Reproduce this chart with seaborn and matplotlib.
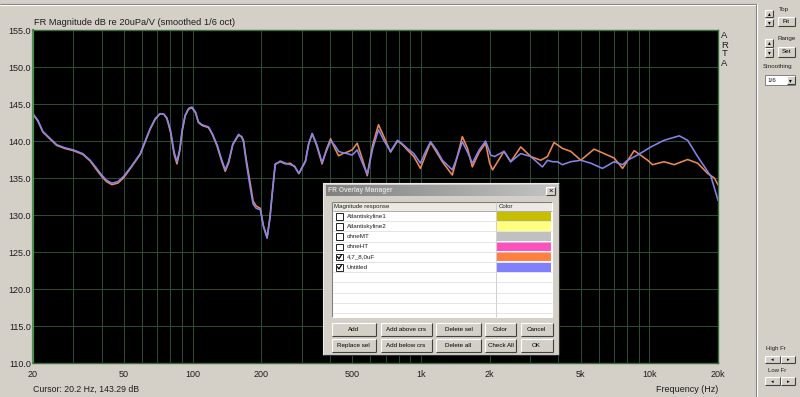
import numpy as np
import pandas as pd
import matplotlib
matplotlib.use("Agg")
import matplotlib.pyplot as plt
import seaborn as sns
from matplotlib.patches import Rectangle
from matplotlib.ticker import FixedLocator, NullFormatter
from matplotlib.colors import LinearSegmentedColormap

# ---------------- data ----------------
freq_blue = [20, 21, 22.1, 23.5, 25.4, 27.5, 30, 33, 35.6, 38, 40, 42, 44.3, 47, 49.8,
             54, 59, 62, 65.2, 68.5, 72, 75, 77.2, 80, 83, 85.4, 88, 90, 92.8, 96,
             99.3, 103, 106, 110, 117.5, 122, 128, 134, 139, 144, 150, 159, 164, 167,
             172, 179, 184, 190, 198, 204, 212, 218, 223, 230, 242, 255, 268, 280, 292,
             312, 322, 334, 350, 369, 385, 402, 420, 436, 455, 475, 500, 526, 555, 582,
             615, 652, 690, 736, 790, 830, 871, 931, 995, 1045, 1102, 1170, 1241, 1372,
             1440, 1518, 1600, 1679, 1800, 1920, 2020, 2100, 2311, 2473, 2736, 3027,
             3405, 3582, 3767, 3962, 4168, 4530, 5013, 5545, 6240, 7016, 7640, 8030,
             8890, 10170, 11610, 13530, 14720, 16290, 18630, 20000]
db_blue = [143.7, 142.8, 141.3, 140.5, 139.5, 139.1, 138.8, 138.3, 137.4, 136.3, 135.4,
           134.7, 134.3, 134.5, 135.2, 136.6, 138.3, 140.0, 141.7, 143.0, 143.7, 143.6,
           143.1, 141.5, 138.5, 137.2, 139.0, 141.5, 143.5, 144.4, 144.6, 143.9, 142.6,
           142.2, 141.9, 141.0, 139.5, 137.5, 136.1, 137.3, 139.6, 140.9, 140.5, 139.9,
           137.0, 133.6, 131.5, 130.9, 130.7, 128.5, 126.85, 129.5, 132.7, 136.8, 137.3,
           137.0, 136.8, 136.6, 135.6, 137.2, 139.5, 141.0, 139.5, 137.1, 138.6, 140.0,
           139.4, 138.6, 138.4, 138.3, 138.1, 138.8, 137.0, 135.5, 139.0, 141.5, 140.0,
           138.6, 140.1, 139.6, 139.0, 138.3, 137.0, 138.5, 139.9, 138.8, 137.4, 136.1,
           137.8, 139.9, 138.5, 137.0, 138.8, 140.0, 138.1, 137.9, 138.6, 137.2, 138.3,
           137.9, 136.5, 137.4, 137.2, 137.2, 136.8, 137.2, 137.4, 137.0, 136.3, 137.2,
           136.8, 137.4, 138.1, 139.2, 140.1, 140.7, 140.1, 137.9, 135.2, 132.0]

freq_orange = [20, 21, 22.1, 23.5, 25.4, 27.5, 30, 33, 35.6, 38, 40, 42, 44.3, 47, 49.8,
               54, 59, 62, 65.2, 68.5, 72, 75, 77.2, 80, 83, 85.4, 88, 90, 92.8, 96,
               99.3, 103, 106, 110, 117.5, 122, 128, 134, 139, 144, 150, 159, 164, 167,
               172, 179, 184, 190, 198, 204, 212, 218, 223, 230, 242, 255, 268, 280, 292,
               312, 322, 334, 350, 369, 385, 402, 420, 436, 455, 475, 500, 526, 555, 582,
               615, 652, 690, 736, 790, 830, 871, 931, 995, 1045, 1102, 1170, 1241, 1372,
               1440, 1518, 1600, 1679, 1800, 1920, 2000, 2060, 2311, 2473, 2736, 3027,
               3348, 3582, 3829, 4168, 4530, 5013, 5733, 6343, 7016, 7640, 8590, 9840,
               10340, 11610, 12850, 14720, 16290, 18030, 19270, 20000]
db_orange = [143.6, 142.7, 141.2, 140.4, 139.4, 139.0, 138.7, 138.2, 137.3, 136.1, 135.2,
             134.5, 134.1, 134.3, 135.0, 136.5, 138.2, 139.9, 141.6, 142.9, 143.7, 143.6,
             143.0, 141.2, 138.2, 136.9, 138.8, 141.3, 143.4, 144.3, 144.5, 143.8, 142.5,
             142.1, 141.8, 140.9, 139.3, 137.3, 135.9, 137.1, 139.5, 140.8, 140.6, 140.1,
             137.4, 134.2, 131.9, 131.2, 130.9, 128.6, 127.0, 129.6, 132.8, 136.9, 137.2,
             136.9, 137.0, 136.5, 135.6, 137.3, 139.6, 141.0, 139.3, 136.9, 138.8, 140.3,
             139.0, 138.0, 138.3, 138.5, 138.8, 139.7, 137.5, 135.3, 139.5, 142.2, 140.5,
             138.5, 140.0, 139.5, 138.8, 137.9, 136.3, 138.0, 139.8, 138.5, 137.2, 135.4,
             137.8, 140.6, 139.0, 136.5, 138.5, 139.7, 137.0, 136.1, 138.6, 137.2, 139.2,
             137.9, 137.4, 137.9, 139.8, 139.0, 138.6, 137.4, 138.9, 138.3, 137.7, 136.3,
             138.7, 137.4, 136.8, 137.2, 136.8, 137.5, 137.0, 135.6, 135.0, 134.1]

series_names = ["4,7_8,0uF", "Untitled"]
series_colors = ["#EC8A52", "#8484EC"]

x_ticks = [20, 50, 100, 200, 500, 1000, 2000, 5000, 10000, 20000]
x_tick_labels = ["20", "50", "100", "200", "500", "1k", "2k", "5k", "10k", "20k"]
y_ticks = [110, 115, 120, 125, 130, 135, 140, 145, 150, 155]
y_tick_labels = ["%.1f" % v for v in y_ticks]

overlay_names = ["Atlantiskyline1", "Atlantiskyline2", "ohneMT", "ohneHT", "4,7_8,0uF", "Untitled"]
overlay_colors = ["#C8BE00", "#FFFF80", "#C0C0C0", "#FF50C0", "#FF8040", "#8080FF"]
overlay_checked = [False, False, False, False, True, True]

title_text = "FR Magnitude dB re 20uPa/V (smoothed 1/6 oct)"
cursor_text = "Cursor: 20.2 Hz, 143.29 dB"
xlabel_text = "Frequency (Hz)"

# ---------------- figure ----------------
plt.rcParams["font.family"] = ["Liberation Sans", "DejaVu Sans"]
BG = "#D4D0C8"
TXT = "#1E1E1E"
W, H = 800, 397
fig = plt.figure(figsize=(8, 3.97), dpi=100, facecolor=BG)

ax = fig.add_axes([33 / W, 1 - 363 / H, 685 / W, 333 / H])
ax.set_facecolor("black")

df = pd.concat([
    pd.DataFrame({"freq": freq_orange, "db": db_orange, "series": series_names[0]}),
    pd.DataFrame({"freq": freq_blue, "db": db_blue, "series": series_names[1]}),
], ignore_index=True)

sns.lineplot(data=df, x="freq", y="db", hue="series", hue_order=series_names,
             palette=dict(zip(series_names, series_colors)), estimator=None,
             linewidth=1.15, legend=False, ax=ax)

ax.set_xscale("log")
ax.set_xlim(20, 20000)
ax.set_ylim(110, 155)
ax.set_xlabel("")
ax.set_ylabel("")

minor = []
for dec in [10, 100, 1000, 10000]:
    for m in range(1, 10):
        v = dec * m
        if 20 <= v <= 20000 and v not in x_ticks:
            minor.append(v)
ax.xaxis.set_major_locator(FixedLocator(x_ticks))
ax.set_xticklabels(x_tick_labels)
ax.xaxis.set_minor_locator(FixedLocator(minor))
ax.xaxis.set_minor_formatter(NullFormatter())
ax.set_yticks(y_ticks)
ax.set_yticklabels(y_tick_labels)
ax.tick_params(axis="both", which="both", length=0, labelsize=6.5, colors=TXT)
ax.tick_params(axis="x", pad=5)
ax.tick_params(axis="y", pad=1.5)
ax.grid(True, which="both", color="#2C4E34", linewidth=0.7)
ax.set_axisbelow(True)
for s in ax.spines.values():
    s.set_color("#3A6E40")
    s.set_linewidth(1.0)
ax.spines["left"].set_linewidth(1.6)
ax.spines["left"].set_color("#4C9050")

fig.text(34 / W, 1 - 22.5 / H, title_text, fontsize=6.7, color=TXT, va="center", ha="left")
fig.text(33 / W, 1 - 389 / H, cursor_text, fontsize=6.3, color=TXT, va="center", ha="left")
fig.text(718 / W, 1 - 389 / H, xlabel_text, fontsize=6.5, color=TXT, va="center", ha="right")
for i, ch in enumerate("ARTA"):
    fig.text(724.5 / W, 1 - (36 + 9 * i) / H, ch, fontsize=6.8, color=TXT, va="center", ha="center")

# ---------------- decoration overlay (pixel coordinates) ----------------
deco = fig.add_axes([0, 0, 1, 1], zorder=10)
deco.axis("off")
deco.set_autoscale_on(False)
deco.set_xlim(0, W)
deco.set_ylim(H, 0)


def hline(x0, x1, y, c, lw=0.8):
    deco.plot([x0, x1], [y, y], color=c, lw=lw, solid_capstyle="butt")


def vline(x, y0, y1, c, lw=0.8):
    deco.plot([x, x], [y0, y1], color=c, lw=lw, solid_capstyle="butt")


def button(x0, y0, x1, y1, label="", fs=4.6, raised=True):
    deco.add_patch(Rectangle((x0, y0), x1 - x0, y1 - y0, facecolor=BG, edgecolor="none"))
    lt, dk = ("white", "#404040") if raised else ("#808080", "white")
    hline(x0, x1, y0, lt)
    vline(x0, y0, y1, lt)
    hline(x0, x1, y1, dk)
    vline(x1, y0, y1, dk)
    if label:
        deco.text((x0 + x1) / 2, (y0 + y1) / 2 + 0.3, label, ha="center", va="center",
                  fontsize=fs, color="black")


# window frame lines
hline(0, 756, 4, "#808080")
hline(0, 756, 5, "white")
vline(756, 4, 397, "#808080")
vline(757, 4, 397, "white")

# right-hand panel controls
button(765, 9.5, 773, 17, "▴", fs=4)
button(765, 18.5, 773, 26, "▾", fs=4)
deco.text(779, 10, "Top", fontsize=4.5, color=TXT, va="center", ha="left")
button(778, 16.5, 795, 26, "Fit", fs=4.6)
button(765, 38.5, 773, 46.5, "▴", fs=4)
button(765, 48, 773, 56.5, "▾", fs=4)
deco.text(778, 38.5, "Range", fontsize=4.5, color=TXT, va="center", ha="left")
button(778, 46.5, 795, 56.5, "Set", fs=4.6)
deco.text(763, 66.5, "Smoothing", fontsize=4.5, color=TXT, va="center", ha="left")
deco.add_patch(Rectangle((765, 75), 30, 10, facecolor="white", edgecolor="#808080", lw=0.7))
deco.text(767, 80.3, "1/6", fontsize=4.5, color=TXT, va="center", ha="left")
button(787, 76, 794.5, 84, "▾", fs=4)

deco.text(766.5, 348.5, "High Fr", fontsize=4.3, color=TXT, va="center", ha="left")
button(765, 356, 780, 363, "◂", fs=3.8)
button(781, 356, 795, 363, "▸", fs=3.8)
deco.text(768, 370, "Low Fr", fontsize=4.3, color=TXT, va="center", ha="left")
button(765, 377, 780, 384.5, "◂", fs=3.8)
button(781, 377, 795, 384.5, "▸", fs=3.8)

# overlay manager dialog
dx0, dy0, dx1, dy1 = 323, 183, 559, 355
deco.add_patch(Rectangle((dx0, dy0), dx1 - dx0, dy1 - dy0, facecolor=BG, edgecolor="none"))
hline(dx0, dx1, dy0, "#E8E8E8")
vline(dx0, dy0, dy1, "#E8E8E8")
hline(dx0, dx1, dy1, "#303030")
vline(dx1, dy0, dy1, "#303030")
grad = LinearSegmentedColormap.from_list("tb", ["#808080", "#C4C4C4"])
deco.imshow(np.linspace(0, 1, 256)[None, :], extent=(325.5, 556.5, 196, 185.5),
            cmap=grad, aspect="auto", zorder=1)
deco.text(327.5, 190.8, "FR Overlay Manager", fontsize=4.8, fontweight="bold",
          color="#DCDCDC", va="center", ha="left", zorder=3)
button(545.5, 186.5, 555, 195, "×", fs=5.5)

tx0, ty0, tx1, ty1 = 331.5, 201.5, 552, 317
deco.add_patch(Rectangle((tx0, ty0), tx1 - tx0, ty1 - ty0, facecolor="white", edgecolor="none"))
hline(tx0, tx1, ty0, "#808080")
vline(tx0, ty0, ty1, "#808080")
hline(tx0, tx1, ty1, "white")
vline(tx1, ty0, ty1, "white")
deco.add_patch(Rectangle((tx0 + 1, ty0 + 0.5), tx1 - tx0 - 1.5, 8.5, facecolor="#ECE9E2",
                         edgecolor="none"))
hline(tx0 + 1, tx1, ty0 + 9, "#A0A0A0", lw=0.6)
col_x = 496
vline(col_x, ty0 + 0.5, ty1, "#C8C8C8", lw=0.6)
deco.text(334, ty0 + 5, "Magnitude response", fontsize=4.4, color=TXT, va="center", ha="left")
deco.text(499, ty0 + 5, "Color", fontsize=4.4, color=TXT, va="center", ha="left")

row_h = 10.2
for k in range(11):
    y = 211 + row_h * k
    if y < ty1 - 1:
        hline(tx0 + 1, tx1 - 0.5, y + row_h, "#DADADA", lw=0.5)
for k, (name, col, chk) in enumerate(zip(overlay_names, overlay_colors, overlay_checked)):
    y = 211 + row_h * k
    deco.add_patch(Rectangle((col_x + 0.8, y + 0.6), tx1 - col_x - 1.5, row_h - 1.2,
                             facecolor=col, edgecolor="none"))
    deco.add_patch(Rectangle((336, y + 2), 6.5, 6.5, facecolor="white", edgecolor="#202020",
                             lw=0.7))
    if chk:
        deco.plot([337.5, 339, 341.3], [y + 5.0, y + 7.0, y + 3.2], color="black", lw=0.9)
    deco.text(346.5, y + row_h / 2 + 0.2, name, fontsize=4.5, color=TXT, va="center", ha="left")

btn_cols = [(331.5, 376), (380.5, 431.5), (436, 481), (485, 516), (520.5, 552.5)]
row1 = ["Add", "Add above crs", "Delete sel", "Color", "Cancel"]
row2 = ["Replace sel", "Add below crs", "Delete all", "Check All", "OK"]
for (bx0, bx1), l1, l2 in zip(btn_cols, row1, row2):
    button(bx0, 322.5, bx1, 336, l1, fs=4.5)
    button(bx0, 338.5, bx1, 352, l2, fs=4.5)

deco.set_xlim(0, W)
deco.set_ylim(H, 0)

fig.savefig("out.png", dpi=100, facecolor=BG)
